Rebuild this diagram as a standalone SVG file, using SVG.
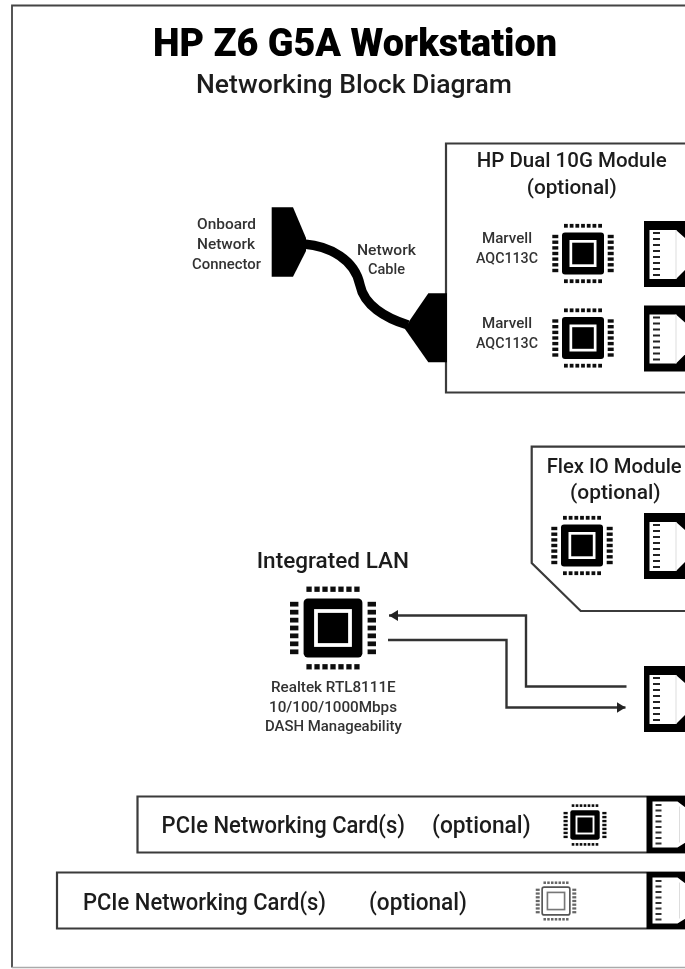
<svg xmlns="http://www.w3.org/2000/svg" width="685" height="969" viewBox="0 0 685 969">
<style>
text{font-family:Roboto,"Noto Sans","Liberation Sans",sans-serif;fill:#1c1c1c;font-size:16px}
.t{font-weight:900;font-size:39px;fill:#000}
.s{font-size:26px;font-weight:500}
.h{font-size:20px;font-weight:500}
.l{font-size:22px;font-weight:500}
.c{font-size:23px;font-weight:500}
.m{font-size:15px;font-weight:500;fill:#333}
.box{fill:#fff;stroke:#3a3a3a;stroke-width:2.200}
.wire{fill:none;stroke:#333;stroke-width:2.400}
.k{fill:#000}
</style>
<defs>
<filter id="soft" x="0" y="0" width="685" height="969" filterUnits="userSpaceOnUse"><feGaussianBlur stdDeviation="0.7"/></filter>
<marker id="arrow" markerWidth="9" markerHeight="11" refX="9" refY="5.500" orient="auto" markerUnits="userSpaceOnUse"><path d="M0 0L9 5.500L0 11Z" fill="#222"/></marker>
<g id="pinrow"><rect x="-19" y="-1.900" width="3.800" height="3.800"/><rect x="-13.300" y="-1.900" width="3.800" height="3.800"/><rect x="-7.600" y="-1.900" width="3.800" height="3.800"/><rect x="-1.900" y="-1.900" width="3.800" height="3.800"/><rect x="3.800" y="-1.900" width="3.800" height="3.800"/><rect x="9.500" y="-1.900" width="3.800" height="3.800"/><rect x="15.200" y="-1.900" width="3.800" height="3.800"/></g>
<g id="sidepins"><rect x="-3" y="-18.700" width="6" height="3.400"/><rect x="-3" y="-13" width="6" height="3.400"/><rect x="-3" y="-7.300" width="6" height="3.400"/><rect x="-3" y="-1.700" width="6" height="3.400"/><rect x="-3" y="3.900" width="6" height="3.400"/><rect x="-3" y="9.600" width="6" height="3.400"/><rect x="-3" y="15.300" width="6" height="3.400"/></g>
<g id="pins"><use href="#pinrow" y="-27.700"/><use href="#pinrow" y="27.700"/><use href="#sidepins" x="-27.700"/><use href="#sidepins" x="27.700"/></g>
<g id="chip"><use href="#pins" fill="#111"/><rect x="-21" y="-21" width="42" height="42" rx="3" fill="#000"/><rect x="-13.500" y="-13.500" width="27" height="27" fill="#fff"/><rect x="-10.800" y="-10.800" width="21.600" height="21.600" fill="#000"/></g>
<g id="chipo"><use href="#pins" fill="#666"/><rect x="-21" y="-21" width="42" height="42" rx="3" fill="#fff" stroke="#555" stroke-width="2.500"/><rect x="-13" y="-13" width="26" height="26" fill="#fff" stroke="#777" stroke-width="2.500"/></g>
<g id="port"><rect x="0" y="-33" width="41" height="66" fill="#000"/><path d="M5.500 -24H32L41 -16V16L32 25H5.500Z" fill="#fff"/><path d="M32 -24V25" stroke="#ddd" stroke-width="1"/><path d="M9 -21H16M9 -15H16M9 -9H16M9 -3H16M9 3H16M9 9H16M9 15H16M9 21H16" stroke="#222" stroke-width="2.200"/></g>
<g id="cardport"><rect x="0" y="-28.500" width="39" height="57" fill="#000"/><path d="M6 -23H31L39 -17V18L31 23H6Z" fill="#fff"/><path d="M33 -18V18" stroke="#ddd" stroke-width="1"/><path d="M9 -19.500H15M9 -14H15M9 -8.500H15M9 -3H15M9 2.500H15M9 8H15M9 13.500H15M9 19H15" stroke="#333" stroke-width="2"/></g>
</defs>
<rect width="685" height="969" fill="#fff"/>
<g filter="url(#soft)">
<g id="frame"><path d="M685 5.500H12V967.500" fill="none" stroke="#444" stroke-width="1.800"/><path d="M12 967.500H685" fill="none" stroke="#aaa" stroke-width="1.500"/></g>
<g id="title"><text class="t" x="153" y="56" textLength="404" lengthAdjust="spacingAndGlyphs">HP Z6 G5A Workstation</text><text class="s" x="196" y="93" textLength="316" lengthAdjust="spacingAndGlyphs">Networking Block Diagram</text></g>
<g id="connectors">
<path d="M304 244C330 246 355 260 360 285C364 305 385 318 408 325" fill="none" stroke="#000" stroke-width="9.500"/>
<path class="wire" d="M626.500 686.500H526V615.500H389" marker-end="url(#arrow)"/>
<path class="wire" d="M388 640H506.500V707.500H625.500" marker-end="url(#arrow)"/>
</g>
<g id="onboard-connector"><path class="k" d="M271.700 207.300H293L306 238V251L293 276.700H271.700Z"/><text class="m" x="197" y="229" textLength="59" lengthAdjust="spacingAndGlyphs">Onboard</text><text class="m" x="197" y="249" textLength="58" lengthAdjust="spacingAndGlyphs">Network</text><text class="m" x="192" y="269" textLength="69" lengthAdjust="spacingAndGlyphs">Connector</text></g>
<g id="cable-label"><text class="m" x="357" y="255" textLength="59" lengthAdjust="spacingAndGlyphs">Network</text><text class="m" x="368" y="274" textLength="37" lengthAdjust="spacingAndGlyphs">Cable</text></g>
<g id="dual-10g-module">
<path class="box" d="M685 143.500H446V392.500H685"/>
<path class="k" d="M447 293.300H428.300L410 320L405 329L428.300 362.300H447Z"/>
<text class="h" x="476.700" y="167" textLength="190" lengthAdjust="spacingAndGlyphs">HP Dual 10G Module</text>
<text class="h" x="526.700" y="194" textLength="90" lengthAdjust="spacingAndGlyphs">(optional)</text>
<text class="m" x="482" y="243" textLength="50" lengthAdjust="spacingAndGlyphs">Marvell</text><text class="m" x="476" y="263" textLength="62" lengthAdjust="spacingAndGlyphs">AQC113C</text>
<text class="m" x="482" y="328" textLength="50" lengthAdjust="spacingAndGlyphs">Marvell</text><text class="m" x="476" y="348" textLength="62" lengthAdjust="spacingAndGlyphs">AQC113C</text>
<use href="#chip" x="583" y="253.500"/><use href="#chip" x="583" y="338"/>
<use href="#port" x="644" y="254"/><use href="#port" x="644" y="338.500"/>
</g>
<g id="flex-io-module">
<path class="box" d="M685 446.700H531.700V563L580.700 611H685"/>
<text class="h" x="546.700" y="473" textLength="135" lengthAdjust="spacingAndGlyphs">Flex IO Module</text>
<text class="h" x="570" y="499" textLength="90.700" lengthAdjust="spacingAndGlyphs">(optional)</text>
<use href="#chip" x="582" y="545.500"/><use href="#port" x="644" y="546"/>
</g>
<g id="integrated-lan">
<text class="l" x="256.700" y="568" textLength="152.300" lengthAdjust="spacingAndGlyphs">Integrated LAN</text>
<use href="#chip" transform="translate(333 628) scale(1.400)"/>
<text class="m" x="271" y="691.500" textLength="124.700" lengthAdjust="spacingAndGlyphs">Realtek RTL8111E</text>
<text class="m" x="269" y="711.500" textLength="128" lengthAdjust="spacingAndGlyphs">10/100/1000Mbps</text>
<text class="m" x="265" y="731" textLength="136.700" lengthAdjust="spacingAndGlyphs">DASH Manageability</text>
</g>
<g id="lan-port"><use href="#port" x="644" y="699"/></g>
<g id="pcie-card-1">
<path class="box" d="M685 796.500H137.500V852.500H685"/>
<text class="c" x="161.600" y="833" textLength="243.400" lengthAdjust="spacingAndGlyphs">PCIe Networking Card(s)</text>
<text class="c" x="432" y="833" textLength="98.600" lengthAdjust="spacingAndGlyphs">(optional)</text>
<use href="#chip" transform="translate(585 825) scale(.7)"/><use href="#cardport" x="646.500" y="824.500"/>
</g>
<g id="pcie-card-2">
<path class="box" d="M685 872.500H57V928.500H685"/>
<text class="c" x="83" y="910" textLength="243" lengthAdjust="spacingAndGlyphs">PCIe Networking Card(s)</text>
<text class="c" x="369" y="910" textLength="98" lengthAdjust="spacingAndGlyphs">(optional)</text>
<use href="#chipo" transform="translate(556 901) scale(.66)"/><use href="#cardport" x="646.500" y="900.500"/>
</g>
</g>
</svg>
